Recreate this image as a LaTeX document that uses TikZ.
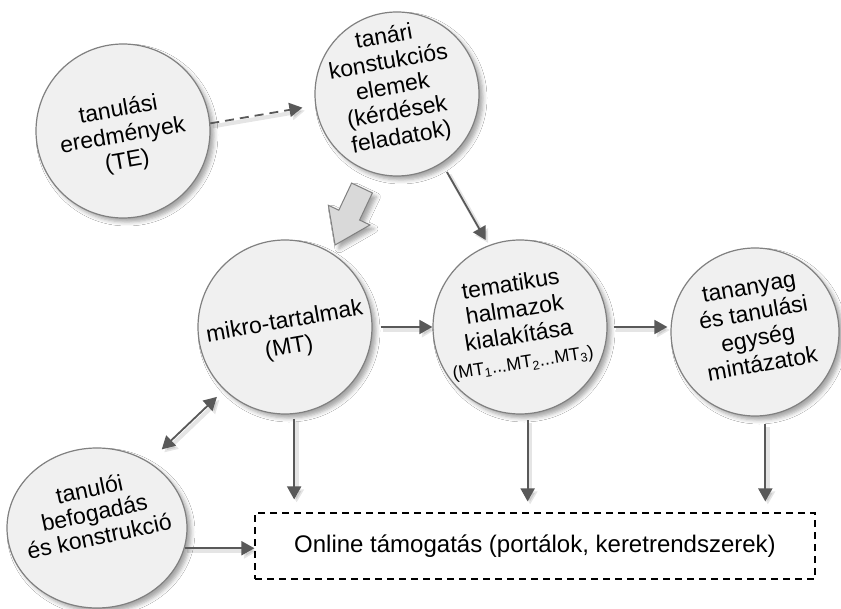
\documentclass[tikz,border=0pt]{standalone}
\usepackage{graphicx}
\usepackage{fontspec}
\setmainfont{Liberation Sans}
\usetikzlibrary{arrows.meta,shadows.blur,calc,shapes.geometric}
\definecolor{disc}{HTML}{F0F0F0}
\definecolor{rim}{HTML}{808080}
\definecolor{ink}{HTML}{595959}
\definecolor{blockfill}{HTML}{D9D9D9}

% centred lines of text, tilted a little
\newcommand{\tiltlines}[3]{\rotatebox{#1}{\fontsize{23}{#2}\selectfont
  \begin{tabular}{@{}c@{}}#3\end{tabular}}}

\begin{document}
\begin{tikzpicture}[x=1pt,y=-1pt,
  softshadow/.style={blur shadow={shadow xshift=4pt, shadow yshift=-4pt,
      shadow blur radius=4pt, shadow opacity=35}},
  disk/.style={circle, fill=disc, draw=rim, line width=1.2pt, inner sep=0pt,
      minimum size=#1, softshadow},
  oval/.style={ellipse, fill=disc, draw=rim, line width=1.2pt, inner sep=0pt,
      softshadow},
  disktext/.style={inner sep=0pt},
  lineshadow/.style={preaction={draw=black, draw opacity=.10, fill opacity=.10,
      line width=4pt, transform canvas={shift={(2.5pt,-3pt)}}}},
  arr/.style={draw=ink, line width=1.8pt, lineshadow,
      -{Triangle[length=13pt,width=14pt]}},
  arrboth/.style={draw=ink, line width=1.8pt, lineshadow,
      {Triangle[length=13pt,width=14pt]}-{Triangle[length=13pt,width=14pt]}},
  dashline/.style={dash pattern=on 9pt off 6pt},
  portal/.style={draw=black, line width=1.1pt, dash pattern=on 7pt off 5pt,
      minimum width=560pt, minimum height=66pt, inner sep=0pt,
      font=\fontsize{24}{28}\selectfont},
  blockarrow/.style={fill=blockfill, draw=rim, line width=1pt, line join=miter,
      softshadow}
]
\useasboundingbox (0,0) rectangle (841,609);
\fill[white] (0,0) rectangle (841,609);

% circles
\node[disk=174pt] (te) at (123,131) {};
\node[disk=164pt] (tc) at (397,94) {};
\node[disk=174pt] (mt) at (285,327) {};
\node[disk=174pt] (tm) at (520,327) {};
\node[disk=168pt] (ta) at (755,332) {};
\node[oval, minimum width=180pt, minimum height=160pt] (tb) at (97,528) {};

% circle texts
\node[disktext] (te-t) at (123,137)
  {\tiltlines{10}{26}{tanulási\\eredmények\\(TE)}};
\node[disktext] (tc-t) at (393,89)
  {\tiltlines{10}{25.5}{tanári\\konstukciós\\elemek\\(kérdések\\feladatok)}};
\node[disktext] (mt-t) at (287,336)
  {\tiltlines{10}{26}{mikro-tartalmak\\(MT)}};
\node[disktext] (tm-t) at (517,325)
  {\tiltlines{9}{26}{tematikus\\halmazok\\kialakítása\\%
  {\fontsize{18}{20}\selectfont (MT\textsubscript{1}...MT\textsubscript{2}...MT\textsubscript{3})}}};
\node[disktext] (ta-t) at (756,328)
  {\tiltlines{10}{26}{tananyag\\és tanulási\\egység\\mintázatok}};
\node[disktext] (tb-t) at (95,516)
  {\tiltlines{12}{24}{tanulói\\befogadás\\és konstrukció}};

% online support box
\node[portal] (box) at (535,546) {Online támogatás (portálok, keretrendszerek)};

% thick block arrow from the teacher elements to the micro contents
\begin{scope}[shift={(362,188)}, rotate=-115.3]
  \path[blockarrow] (0,-11.5) -- (30,-11.5) -- (30,-23) -- (63,0)
    -- (30,23) -- (30,11.5) -- (0,11.5) -- cycle;
\end{scope}

% connectors
\draw[arr, dashline, shorten >=13pt] (te.5) -- (tc.188);
\draw[arr, shorten <=10pt, shorten >=6pt] (tc.-57) -- (tm.111);
\draw[arr, shorten <=8pt] (mt.east) -- (mt.east -| tm.west);
\draw[arr, shorten <=6pt, shorten >=3pt] (tm.east) -- (tm.east -| ta.west);
\draw[arrboth, shorten <=18pt, shorten >=10pt] (tb.52) -- (mt.226);
\draw[arr] (tb.-13) -- (tb.-13 -| box.west);
\draw[arr, shorten <=5pt, shorten >=13pt] (mt.-84) -- (mt.-84 |- box.north);
\draw[arr, shorten <=6pt, shorten >=11pt] (tm.-85) -- (tm.-85 |- box.north);
\draw[arr, shorten <=8pt, shorten >=11pt] (ta.-83) -- (ta.-83 |- box.north);
\end{tikzpicture}
\end{document}
